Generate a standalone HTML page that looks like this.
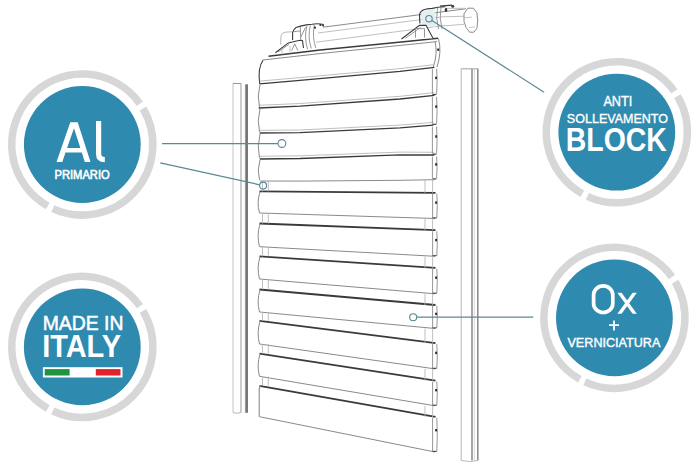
<!DOCTYPE html>
<html><head><meta charset="utf-8"><style>
html,body{margin:0;padding:0;background:#fff;}
svg{display:block;font-family:"Liberation Sans",sans-serif;}
</style></head><body>
<svg width="698" height="466" viewBox="0 0 698 466">
<rect width="698" height="466" fill="#fff"/>
<circle cx="82.3" cy="144.5" r="58.4" fill="#2f8ab0"/>
<path d="M142.96,108.48 A70.55,70.55 0 0 1 52.82,208.60" stroke="#d7d7d7" stroke-width="7.5" fill="none"/>
<path d="M47.77,206.02 A70.55,70.55 0 1 1 139.88,103.73" stroke="#d7d7d7" stroke-width="7.5" fill="none"/>
<circle cx="82.3" cy="346.9" r="58.4" fill="#2f8ab0"/>
<path d="M142.96,310.88 A70.55,70.55 0 0 1 52.82,411.00" stroke="#d7d7d7" stroke-width="7.5" fill="none"/>
<path d="M47.77,408.42 A70.55,70.55 0 1 1 139.88,306.13" stroke="#d7d7d7" stroke-width="7.5" fill="none"/>
<circle cx="616.8" cy="132.2" r="58.4" fill="#2f8ab0"/>
<path d="M677.46,96.18 A70.55,70.55 0 0 1 587.32,196.30" stroke="#d7d7d7" stroke-width="7.5" fill="none"/>
<path d="M582.27,193.72 A70.55,70.55 0 1 1 674.38,91.43" stroke="#d7d7d7" stroke-width="7.5" fill="none"/>
<circle cx="614.4" cy="317.8" r="58.4" fill="#2f8ab0"/>
<path d="M675.06,281.78 A70.55,70.55 0 0 1 584.92,381.90" stroke="#d7d7d7" stroke-width="7.5" fill="none"/>
<path d="M579.87,379.32 A70.55,70.55 0 1 1 671.98,277.03" stroke="#d7d7d7" stroke-width="7.5" fill="none"/>
<path fill="#fff" fill-rule="evenodd" d="M56.5,161.9 L70.3,122.2 L77.7,122.2 L90.5,161.9 L84.8,161.9 L81.83,152.6 L65.51,152.6 L62.3,161.9 Z M67.07,148.1 L73.97,128.3 L80.37,148.1 Z"/>
<path fill="none" stroke="#fff" stroke-width="5.2" d="M98.6,121.1 L98.6,154 Q98.6,159.6 104.8,159.6"/>
<text transform="translate(54.51,178.50) scale(0.8881,1)" font-size="12.57" font-weight="normal" fill="#fff" stroke="#fff" stroke-width="0.6">PRIMARIO</text>
<text transform="translate(42.65,330.10) scale(0.9843,1)" font-size="19.71" font-weight="normal" fill="#fff" stroke="#fff" stroke-width="0.5">MADE IN</text>
<text transform="translate(42.17,357.10) scale(0.9115,1)" font-size="31.74" font-weight="bold" fill="#fff">ITALY</text>
<rect x="42.9" y="367.2" width="79.6" height="10.3" fill="#fff"/>
<rect x="44.7" y="369.1" width="24.9" height="6.4" fill="#1c9440"/>
<rect x="95.8" y="369.1" width="24.7" height="6.4" fill="#e3222b"/>
<text transform="translate(603.40,105.90) scale(0.9039,1)" font-size="14.06" font-weight="normal" fill="#fff" stroke="#fff" stroke-width="0.35">ANTI</text>
<text transform="translate(566.87,122.50) scale(0.9425,1)" font-size="13.29" font-weight="normal" fill="#fff" stroke="#fff" stroke-width="0.35">SOLLEVAMENTO</text>
<text transform="translate(565.81,151.20) scale(0.8655,1)" font-size="32.86" font-weight="bold" fill="#fff">BLOCK</text>
<rect x="593.6" y="285.9" width="19.2" height="26.6" rx="9.6" ry="9" fill="none" stroke="#fff" stroke-width="3.7"/>
<clipPath id="cx"><rect x="610" y="292.8" width="30" height="20.9"/></clipPath>
<path clip-path="url(#cx)" d="M618.6,291.5 L635.6,315 M635.6,291.5 L618.6,315" stroke="#fff" stroke-width="3.4" fill="none"/>
<path d="M609,325.2 H619 M614,320.4 V330.5" stroke="#fff" stroke-width="1.8" fill="none"/>
<text transform="translate(567.47,346.60) scale(1.0266,1)" font-size="12.29" font-weight="normal" fill="#fff" stroke="#fff" stroke-width="0.35">VERNICIATURA</text>
<path d="M233,83.5 V412.5" stroke="#c4c4c4" stroke-width="1" fill="none"/>
<path d="M241,83.5 V412.5" stroke="#a2a2a2" stroke-width="1.1" fill="none"/>
<path d="M233,83.5 H241" stroke="#999" stroke-width="1" fill="none"/>
<rect x="244.9" y="84.3" width="1.4" height="328.5" fill="#9a9a9a"/>
<rect x="246.2" y="84.3" width="1.6" height="328.5" fill="#5a5a5a"/>
<path d="M233,412.5 Q237,414 241,412.5" stroke="#b8b8b8" stroke-width="1" fill="none"/>
<path d="M461.2,68.5 V460.5" stroke="#bdbdbd" stroke-width="1.1" fill="none"/>
<path d="M474.3,68.5 V460.5" stroke="#d0d0d0" stroke-width="0.8" fill="none"/>
<path d="M472,68.5 V460.5" stroke="#8a8a8a" stroke-width="1.5" fill="none"/>
<path d="M477.8,68.5 V460.5" stroke="#808080" stroke-width="1.4" fill="none"/>
<path d="M461.2,68.8 H478" stroke="#b0b0b0" stroke-width="1.2" fill="none"/>
<path d="M461.2,460.5 Q470,462.5 478,460.5" stroke="#b8b8b8" stroke-width="1" fill="none"/>
<polyline points="268.5,56.3 320,50.0 408.8,41.2 438,38.2" stroke="#3a3a3a" stroke-width="1.4" fill="none"/>
<polyline points="262.7,60.0 320,53.6 420,43.4 437,41.6" stroke="#8a8a8a" stroke-width="1.0" fill="none"/>
<path d="M263,60.2 Q257.5,68 259.7,83.8" stroke="#3a3a3a" stroke-width="1.1" fill="none"/>
<path d="M438.5,38.4 Q442,52 437,67 M435,41.5 Q438,53 433.3,67" stroke="#8a8a8a" stroke-width="1" fill="none"/>
<rect x="437.2" y="48.5" width="2" height="2.4" fill="#333"/>
<polyline points="259.7,83.8 300,80.3 400,71.3 434.4,67.3" stroke="#3a3a3a" stroke-width="1.3" fill="none"/>
<polyline points="259.7,81.1 300,77.6 400,68.6 434.4,64.6" stroke="#b8b8b8" stroke-width="0.9" fill="none"/>
<polyline points="258.7,108 300,106.2 400,99 434.4,95.3" stroke="#3a3a3a" stroke-width="1.3" fill="none"/>
<polyline points="258.7,105.3 300,103.5 400,96.3 434.4,92.6" stroke="#b8b8b8" stroke-width="0.9" fill="none"/>
<polyline points="259.7,133 300,132.7 400,127.8 433.4,125.1" stroke="#3a3a3a" stroke-width="1.3" fill="none"/>
<polyline points="259.7,130.3 300,130.0 400,125.1 433.4,122.39999999999999" stroke="#b8b8b8" stroke-width="0.9" fill="none"/>
<polyline points="259.7,159 300,158.5 400,154.8 434.4,155" stroke="#3a3a3a" stroke-width="1.3" fill="none"/>
<polyline points="259.7,156.3 300,155.8 400,152.10000000000002 434.4,152.3" stroke="#b8b8b8" stroke-width="0.9" fill="none"/>
<path d="M260,84.8 Q256.8,95.9 259.5,107" stroke="#8a8a8a" stroke-width="1" fill="none"/>
<path d="M432.4,68.8 V93.8 M436.6,68.8 Q437.6,81.3 436.6,93.8" stroke="#8a8a8a" stroke-width="0.9" fill="none"/>
<path d="M432.4,94.5 H436.4" stroke="#444" stroke-width="1.2" fill="none"/>
<rect x="435.1" y="76.7" width="2" height="2.4" fill="#333"/>
<path d="M260,109 Q256.8,120.5 259.5,132" stroke="#8a8a8a" stroke-width="1" fill="none"/>
<path d="M432.4,96.8 V123.6 M436.6,96.8 Q437.6,110.19999999999999 436.6,123.6" stroke="#8a8a8a" stroke-width="0.9" fill="none"/>
<path d="M432.4,124.3 H436.4" stroke="#444" stroke-width="1.2" fill="none"/>
<rect x="435.1" y="105.4" width="2" height="2.4" fill="#333"/>
<path d="M260,134 Q256.8,146.0 259.5,158" stroke="#8a8a8a" stroke-width="1" fill="none"/>
<path d="M432.4,126.6 V153.5 M436.6,126.6 Q437.6,140.05 436.6,153.5" stroke="#8a8a8a" stroke-width="0.9" fill="none"/>
<path d="M432.4,154.2 H436.4" stroke="#444" stroke-width="1.2" fill="none"/>
<rect x="435.1" y="135.3" width="2" height="2.4" fill="#333"/>
<path d="M260,160 Q256.8,170.0 259.5,180.0" stroke="#8a8a8a" stroke-width="1" fill="none"/>
<path d="M432.4,156.5 V178.2 M436.6,156.5 Q437.6,167.35 436.6,178.2" stroke="#8a8a8a" stroke-width="0.9" fill="none"/>
<path d="M432.4,178.89999999999998 H436.4" stroke="#444" stroke-width="1.2" fill="none"/>
<rect x="435.1" y="163.2" width="2" height="2.4" fill="#333"/>
<polyline points="260,181 300,181.1 400,180.3 434.5,179.7" stroke="#8a8a8a" stroke-width="1.0" fill="none"/>
<path d="M259.5,191.4 L435.5,192.8" stroke="#3a3a3a" stroke-width="1.8" fill="none"/>
<path d="M259.5,213.0 L435,218.5" stroke="#8a8a8a" stroke-width="1.0" fill="none"/>
<path d="M260,191.9 Q256.5,202.2 259.5,213.0" stroke="#8a8a8a" stroke-width="1" fill="none"/>
<path d="M432.6,193.8 V218.0 M436.8,193.8 Q437.8,205.65 436.8,218.0" stroke="#8a8a8a" stroke-width="0.9" fill="none"/>
<path d="M432.6,217.9 H436.6" stroke="#444" stroke-width="1.1" fill="none"/>
<rect x="435.1" y="201.4" width="2" height="2.4" fill="#333"/>
<path d="M259.5,223.5 L435.5,230.2" stroke="#3a3a3a" stroke-width="1.8" fill="none"/>
<path d="M259.5,246.7 L435,256.3" stroke="#8a8a8a" stroke-width="1.0" fill="none"/>
<path d="M260,224.0 Q256.5,235.1 259.5,246.7" stroke="#8a8a8a" stroke-width="1" fill="none"/>
<path d="M432.6,231.2 V255.8 M436.8,231.2 Q437.8,243.25 436.8,255.8" stroke="#8a8a8a" stroke-width="0.9" fill="none"/>
<path d="M432.6,255.70000000000002 H436.6" stroke="#444" stroke-width="1.1" fill="none"/>
<rect x="435.1" y="238.9" width="2" height="2.4" fill="#333"/>
<path d="M259.5,256.3 L435.5,267.8" stroke="#3a3a3a" stroke-width="1.8" fill="none"/>
<path d="M259.5,279.0 L435,293.8" stroke="#8a8a8a" stroke-width="1.0" fill="none"/>
<path d="M260,256.8 Q256.5,267.65 259.5,279.0" stroke="#8a8a8a" stroke-width="1" fill="none"/>
<path d="M432.6,268.8 V293.3 M436.8,268.8 Q437.8,280.8 436.8,293.3" stroke="#8a8a8a" stroke-width="0.9" fill="none"/>
<path d="M432.6,293.2 H436.6" stroke="#444" stroke-width="1.1" fill="none"/>
<rect x="435.1" y="276.5" width="2" height="2.4" fill="#333"/>
<path d="M259.5,289.5 L435.5,305.0" stroke="#3a3a3a" stroke-width="1.8" fill="none"/>
<path d="M259.5,312.0 L435,328.5" stroke="#8a8a8a" stroke-width="1.0" fill="none"/>
<path d="M260,290.0 Q256.5,300.75 259.5,312.0" stroke="#8a8a8a" stroke-width="1" fill="none"/>
<path d="M432.6,306.0 V328.0 M436.8,306.0 Q437.8,316.75 436.8,328.0" stroke="#8a8a8a" stroke-width="0.9" fill="none"/>
<path d="M432.6,327.9 H436.6" stroke="#444" stroke-width="1.1" fill="none"/>
<rect x="435.1" y="312.7" width="2" height="2.4" fill="#333"/>
<path d="M259.5,320.9 L435.5,343.1" stroke="#3a3a3a" stroke-width="1.8" fill="none"/>
<path d="M259.5,344.0 L435,368.9" stroke="#8a8a8a" stroke-width="1.0" fill="none"/>
<path d="M260,321.4 Q256.5,332.45 259.5,344.0" stroke="#8a8a8a" stroke-width="1" fill="none"/>
<path d="M432.6,344.1 V368.4 M436.8,344.1 Q437.8,356.0 436.8,368.4" stroke="#8a8a8a" stroke-width="0.9" fill="none"/>
<path d="M432.6,368.29999999999995 H436.6" stroke="#444" stroke-width="1.1" fill="none"/>
<rect x="435.1" y="351.7" width="2" height="2.4" fill="#333"/>
<path d="M259.5,353.7 L435.5,380.6" stroke="#3a3a3a" stroke-width="1.8" fill="none"/>
<path d="M259.5,376.3 L435,405.8" stroke="#8a8a8a" stroke-width="1.0" fill="none"/>
<path d="M260,354.2 Q256.5,365.0 259.5,376.3" stroke="#8a8a8a" stroke-width="1" fill="none"/>
<path d="M432.6,381.6 V405.3 M436.8,381.6 Q437.8,393.20000000000005 436.8,405.3" stroke="#8a8a8a" stroke-width="0.9" fill="none"/>
<path d="M432.6,405.2 H436.6" stroke="#444" stroke-width="1.1" fill="none"/>
<rect x="435.1" y="389.0" width="2" height="2.4" fill="#333"/>
<path d="M259.5,385.8 L435.5,416.9" stroke="#3a3a3a" stroke-width="1.8" fill="none"/>
<path d="M259.5,416.7 L435,452.0" stroke="#8a8a8a" stroke-width="1.0" fill="none"/>
<path d="M260.8,386.1 Q259.2,386.8 259.2,390.3 L259.2,416.7" stroke="#8a8a8a" stroke-width="1.1" fill="none"/>
<path d="M432.6,417.9 V451.5 M436.8,417.9 Q437.8,434.45 436.8,451.5" stroke="#8a8a8a" stroke-width="0.9" fill="none"/>
<path d="M432.6,451.4 H436.6" stroke="#444" stroke-width="1.1" fill="none"/>
<rect x="435.1" y="429.0" width="2" height="2.4" fill="#333"/>
<path d="M262.5,181.0 V191.4 M268.3,181.0 V191.4" stroke="#b8b8b8" stroke-width="0.9" fill="none"/>
<path d="M425,179.7 V192.8 M432.6,179.7 V192.8" stroke="#b8b8b8" stroke-width="0.9" fill="none"/>
<path d="M262.5,213.0 V223.5 M268.3,213.0 V223.5" stroke="#b8b8b8" stroke-width="0.9" fill="none"/>
<path d="M425,218.5 V230.2 M432.6,218.5 V230.2" stroke="#b8b8b8" stroke-width="0.9" fill="none"/>
<path d="M262.5,246.7 V256.3 M268.3,246.7 V256.3" stroke="#b8b8b8" stroke-width="0.9" fill="none"/>
<path d="M425,256.3 V267.8 M432.6,256.3 V267.8" stroke="#b8b8b8" stroke-width="0.9" fill="none"/>
<path d="M262.5,279.0 V289.5 M268.3,279.0 V289.5" stroke="#b8b8b8" stroke-width="0.9" fill="none"/>
<path d="M425,293.8 V305.0 M432.6,293.8 V305.0" stroke="#b8b8b8" stroke-width="0.9" fill="none"/>
<path d="M262.5,312.0 V320.9 M268.3,312.0 V320.9" stroke="#b8b8b8" stroke-width="0.9" fill="none"/>
<path d="M425,328.5 V343.1 M432.6,328.5 V343.1" stroke="#b8b8b8" stroke-width="0.9" fill="none"/>
<path d="M262.5,344.0 V353.7 M268.3,344.0 V353.7" stroke="#b8b8b8" stroke-width="0.9" fill="none"/>
<path d="M425,368.9 V380.6 M432.6,368.9 V380.6" stroke="#b8b8b8" stroke-width="0.9" fill="none"/>
<path d="M262.5,376.3 V385.8 M268.3,376.3 V385.8" stroke="#b8b8b8" stroke-width="0.9" fill="none"/>
<path d="M425,405.8 V416.9 M432.6,405.8 V416.9" stroke="#b8b8b8" stroke-width="0.9" fill="none"/>
<path d="M323,27.2 L465.8,8.8" stroke="#8a8a8a" stroke-width="1" fill="none"/>
<path d="M318,33 L445,16.5 M316,42.2 L445,25.4" stroke="#b8b8b8" stroke-width="0.9" fill="none"/>
<path d="M445,8.4 L466,8.3 M444.6,25.8 L464,24.3 M444.6,16.8 L464,16.2" stroke="#b8b8b8" stroke-width="0.9" fill="none"/>
<polygon points="467.8,8.2 473.4,8.2 476.9,12.9 477.7,20.6 476.9,28.4 473.9,32.2 469.6,32.2 466.1,27.5 464.0,21.5 464.0,13.8" fill="#fff" stroke="#8a8a8a" stroke-width="1"/>
<path d="M464,17.8 L472,17.2 M469,27.5 L475,27" stroke="#b8b8b8" stroke-width="0.8" fill="none"/>
<path d="M292.6,31.7 L285,32.2 Q281.4,33 281,36 L280.6,44.5" stroke="#b8b8b8" stroke-width="1" fill="none"/>
<path d="M292.6,40 L292.6,32.6 Q294,28.5 296,27.4 Q300,26 306.3,24.9 L312,24.2 Q318,23.2 323.7,24.5" stroke="#3a3a3a" stroke-width="1.1" fill="none"/>
<path d="M293.5,31.7 L300.3,30.9 M300.3,27 L300.8,40 M305.5,27.4 L300.5,37.7" stroke="#8a8a8a" stroke-width="0.9" fill="none"/>
<path d="M306.8,26 Q304,37 307.5,49 M310.3,25.5 Q307.5,37 311.3,48.5 M314.3,25 Q312,37 315.8,48" stroke="#8a8a8a" stroke-width="0.9" fill="none"/>
<circle cx="315" cy="27.7" r="1.1" fill="#333"/><circle cx="320.4" cy="25" r="1.1" fill="#333"/><circle cx="323.1" cy="25.6" r="1" fill="#333"/>
<path d="M275.4,52.8 L288.3,42.9 L295.2,41.2 L300.3,40.3 L302.5,40.7 L303.5,48" stroke="#3a3a3a" stroke-width="1.1" fill="#fff"/>
<path d="M278,51.9 L289.2,44.2 M291.7,50.6 L294.7,43.8 L297.8,50.6" stroke="#8a8a8a" stroke-width="0.9" fill="none"/>
<path d="M282,48.5 V54.5 M290,46 V53.5" stroke="#b8b8b8" stroke-width="0.8" fill="none"/>
<path d="M421,11.5 L435,9 L436,26.5 L422,26.5 Z" fill="#e2f0f3" stroke="none"/>
<path d="M419.9,23.5 L419.5,14.9 Q420,12.5 421.2,11.4 Q423,9.8 425.5,9.3 Q429,8.6 432.3,8.4 L438,7.2 L445.2,6.8" stroke="#3a3a3a" stroke-width="1.1" fill="none"/>
<path d="M437.5,7.7 Q435.5,18 438.5,29 M441,7.5 Q439,18 442,29" stroke="#8a8a8a" stroke-width="0.9" fill="none"/>
<ellipse cx="446" cy="10" rx="1.3" ry="2" fill="#333"/><circle cx="452.8" cy="6.3" r="1.5" fill="#444"/>
<path d="M440,6.2 Q446,5.5 452,5.2" stroke="#3a3a3a" stroke-width="1.2" fill="none"/>
<path d="M401.5,39 L419.5,25.4 L426,25.2 L433,38.2" stroke="#3a3a3a" stroke-width="1.1" fill="#fff"/>
<path d="M405.5,38.2 L420.5,27.5 M415.5,28.6 V37.8 M424.5,28.6 V37.5 M415.5,28.6 H424.5" stroke="#8a8a8a" stroke-width="0.9" fill="none"/>
<path d="M162,143.7 L278,143.7" stroke="#5b8893" stroke-width="1.3" fill="none"/>
<circle cx="281.9" cy="143.5" r="3.9" fill="none" stroke="#5b8893" stroke-width="1.1"/>
<path d="M160.3,162.9 L259.8,184.8" stroke="#5b8893" stroke-width="1.2" fill="none"/>
<circle cx="263.1" cy="185.6" r="3.5" fill="none" stroke="#5b8893" stroke-width="1.1"/>
<path d="M416.7,317.2 L533.3,317.2" stroke="#5b8893" stroke-width="1.3" fill="none"/>
<circle cx="413.2" cy="317.2" r="3.5" fill="none" stroke="#5b8893" stroke-width="1.1"/>
<path d="M431.5,20.3 L544.1,92.2" stroke="#5b8893" stroke-width="1.2" fill="none"/>
<circle cx="429" cy="18.7" r="3.2" fill="none" stroke="#5b8893" stroke-width="1.1"/>
</svg>
</body></html>
